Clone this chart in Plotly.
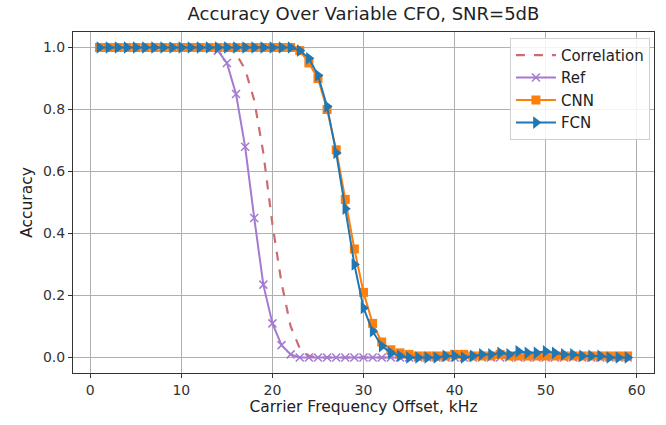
import plotly.graph_objects as go

cfo_khz = list(range(1, 60))

correlation = [1.0] * 14 + [1.0, 0.98, 0.93, 0.83, 0.66, 0.43, 0.24, 0.10, 0.03, 0.005] + [0.0] * 35
ref = [1.0] * 13 + [0.99, 0.95, 0.85, 0.68, 0.45, 0.235, 0.11, 0.04, 0.01] + [0.0] * 37
cnn = [1.0] * 22 + [0.99, 0.95, 0.90, 0.80, 0.67, 0.51, 0.35, 0.21, 0.11, 0.05, 0.025, 0.015,
                    0.01, 0.005, 0.005, 0.005, 0.005, 0.01, 0.01, 0.005, 0.005, 0.005, 0.01, 0.005,
                    0.005, 0.005, 0.005, 0.005, 0.005, 0.005, 0.005, 0.005, 0.005, 0.005, 0.005, 0.005, 0.005]
fcn = [1.0] * 22 + [0.99, 0.965, 0.91, 0.81, 0.66, 0.48, 0.30, 0.16, 0.085, 0.037, 0.015, 0.005,
                    0.0, 0.0, 0.0, 0.0, 0.005, 0.005, 0.0, 0.005, 0.01, 0.01, 0.015, 0.01,
                    0.02, 0.015, 0.015, 0.02, 0.015, 0.01, 0.01, 0.005, 0.005, 0.005, 0.0, 0.0, 0.0]

x_ticks = [0, 10, 20, 30, 40, 50, 60]
y_ticks = [0.0, 0.2, 0.4, 0.6, 0.8, 1.0]

fig = go.Figure()
fig.add_trace(go.Scatter(x=cfo_khz, y=correlation, name="Correlation", mode="lines",
                         line=dict(color="#cc6b74", width=2.2, dash="dash")))
fig.add_trace(go.Scatter(x=cfo_khz, y=ref, name="Ref", mode="lines+markers",
                         line=dict(color="#a47bd0", width=2),
                         marker=dict(symbol="x-thin", size=8, color="#a47bd0",
                                     line=dict(color="#a47bd0", width=1.5))))
fig.add_trace(go.Scatter(x=cfo_khz, y=cnn, name="CNN", mode="lines+markers",
                         line=dict(color="#ff7f0e", width=2),
                         marker=dict(symbol="square", size=9, color="#ff7f0e")))
fig.add_trace(go.Scatter(x=cfo_khz, y=fcn, name="FCN", mode="lines+markers",
                         line=dict(color="#1f77b4", width=2),
                         marker=dict(symbol="triangle-right", size=11, color="#1f77b4")))

axis_common = dict(showgrid=True, gridcolor="#b0b0b0", gridwidth=1, showline=True,
                   linecolor="#333333", linewidth=1, mirror=True, ticks="outside",
                   ticklen=4, tickcolor="#333333", zeroline=False,
                   tickfont=dict(size=14, color="#333333"))

fig.update_layout(
    width=666, height=425,
    margin=dict(l=73, r=12, t=32, b=52),
    paper_bgcolor="white", plot_bgcolor="white",
    font=dict(family="DejaVu Sans", color="#222222"),
    title=dict(text="Accuracy Over Variable CFO, SNR=5dB", x=0.5, xref="paper",
               y=1 - 14 / 425, yref="container", yanchor="middle", font=dict(size=18)),
    xaxis=dict(range=[-1.9, 61.9], tickvals=x_ticks,
               title=dict(text="Carrier Frequency Offset, kHz", font=dict(size=15.5), standoff=4),
               **axis_common),
    yaxis=dict(range=[-0.05, 1.05], tickvals=y_ticks, tickformat=".1f",
               title=dict(text="Accuracy", font=dict(size=15.5), standoff=6),
               **axis_common),
    legend=dict(x=0.993, y=0.983, xanchor="right", yanchor="top",
                bgcolor="rgba(255,255,255,0.85)", bordercolor="#d0d0d0", borderwidth=1,
                font=dict(size=15, color="#222222"), tracegroupgap=0, itemwidth=40),
    showlegend=True,
)

fig.write_html("out.html")
